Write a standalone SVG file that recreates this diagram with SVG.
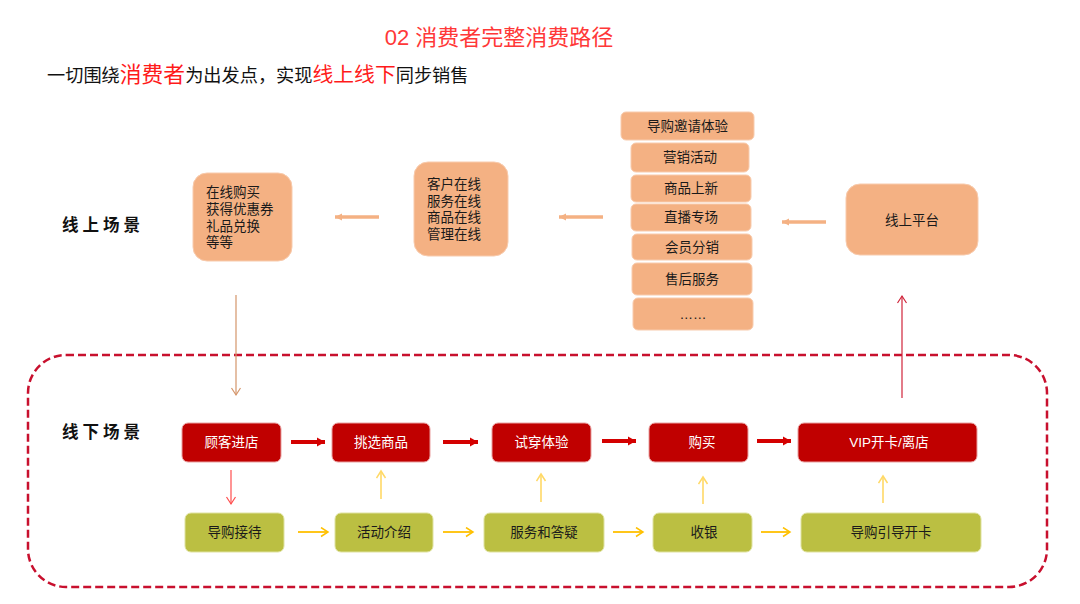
<svg xmlns="http://www.w3.org/2000/svg" width="1080" height="604" viewBox="0 0 1080 604">
<style>
text{font-family:"Liberation Sans","Noto Sans CJK SC",sans-serif;}
.on{fill:#f4b183;stroke:#f8cbad;stroke-width:1;}
.red{fill:#c00000;stroke:#e9a0a0;stroke-width:1;}
.grn{fill:#bbbf42;stroke:#dfe2a0;stroke-width:1;}
.t{font-size:13.5px;fill:#1a1a1a;}
.tc{font-size:13.5px;fill:#1a1a1a;text-anchor:middle;}
.tw{font-size:13.5px;fill:#ffffff;text-anchor:middle;}
.lbl{font-size:16.5px;font-weight:bold;fill:#111;letter-spacing:4px;}
</style>
<defs>
<marker id="hOr" markerUnits="userSpaceOnUse" markerWidth="10" markerHeight="10" refX="7" refY="4" orient="auto"><path d="M0,0.5 L7,4 L0,7.5 z" fill="#f4b183"/></marker>
<marker id="hRd" markerUnits="userSpaceOnUse" markerWidth="12" markerHeight="12" refX="8" refY="5" orient="auto"><path d="M0,0.5 L8,5 L0,9.5 z" fill="#d40000"/></marker>
<marker id="vY" markerUnits="userSpaceOnUse" markerWidth="12" markerHeight="12" refX="8" refY="5" orient="auto"><path d="M1,0.5 L8,5 L1,9.5" fill="none" stroke="#ffc000" stroke-width="1.5"/></marker>
<marker id="vY2" markerUnits="userSpaceOnUse" markerWidth="12" markerHeight="12" refX="8" refY="5" orient="auto"><path d="M1,0.5 L8,5 L1,9.5" fill="none" stroke="#ffd966" stroke-width="1.5"/></marker>
<marker id="vR" markerUnits="userSpaceOnUse" markerWidth="12" markerHeight="12" refX="8" refY="5" orient="auto"><path d="M1,0.5 L8,5 L1,9.5" fill="none" stroke="#ff4d4d" stroke-width="1.2"/></marker>
<marker id="vR2" markerUnits="userSpaceOnUse" markerWidth="12" markerHeight="12" refX="8" refY="5" orient="auto"><path d="M1,0.5 L8,5 L1,9.5" fill="none" stroke="#d0243a" stroke-width="1.2"/></marker>
<marker id="vT" markerUnits="userSpaceOnUse" markerWidth="12" markerHeight="12" refX="8" refY="5" orient="auto"><path d="M1,0.5 L8,5 L1,9.5" fill="none" stroke="#d4956a" stroke-width="1.2"/></marker>
</defs>
<rect width="1080" height="604" fill="#ffffff"/>

<g id="title">
<text x="499" y="45" font-size="22" fill="#ff3838" text-anchor="middle">02  消费者完整消费路径</text>
<text x="47" y="82" font-size="18.2" fill="#111">一切围绕<tspan font-size="21.8" fill="#ff1a1a">消费者</tspan>为出发点，实现<tspan font-size="20.8" fill="#ff1a1a">线上线下</tspan>同步销售</text>
</g>

<g id="labels">
<text class="lbl" x="62" y="231">线上场景</text>
<text class="lbl" x="62" y="438">线下场景</text>
</g>

<g id="offline-frame">
<rect x="28" y="355" width="1019" height="232" rx="38" ry="38" fill="none" stroke="#c8102e" stroke-width="2.5" stroke-dasharray="8 4"/>
</g>

<g id="online-result">
<rect class="on" x="193" y="173" width="99" height="88" rx="14"/>
<text class="t" x="206" y="197">在线购买</text>
<text class="t" x="206" y="214">获得优惠券</text>
<text class="t" x="206" y="231">礼品兑换</text>
<text class="t" x="206" y="247">等等</text>
</g>

<g id="online-service">
<rect class="on" x="414" y="162" width="94" height="94" rx="14"/>
<text class="t" x="427" y="189">客户在线</text>
<text class="t" x="427" y="205.5">服务在线</text>
<text class="t" x="427" y="222">商品在线</text>
<text class="t" x="427" y="238.5">管理在线</text>
</g>

<g id="stack-invite"><rect class="on" x="621" y="112" width="133" height="28" rx="5"/><text class="tc" x="687.5" y="131">导购邀请体验</text></g>
<g id="stack-marketing"><rect class="on" x="631" y="143" width="118" height="29" rx="5"/><text class="tc" x="690" y="162">营销活动</text></g>
<g id="stack-new"><rect class="on" x="631" y="175" width="120" height="27" rx="5"/><text class="tc" x="691" y="193">商品上新</text></g>
<g id="stack-live"><rect class="on" x="631" y="204" width="120" height="27" rx="5"/><text class="tc" x="691" y="222">直播专场</text></g>
<g id="stack-member"><rect class="on" x="632" y="234" width="120" height="26" rx="5"/><text class="tc" x="692" y="252">会员分销</text></g>
<g id="stack-after"><rect class="on" x="632" y="263" width="120" height="32" rx="5"/><text class="tc" x="692" y="284">售后服务</text></g>
<g id="stack-more"><rect class="on" x="633" y="298" width="120" height="32" rx="5"/><text class="tc" x="693" y="319" fill="#555">……</text></g>

<g id="online-platform">
<rect class="on" x="846" y="184" width="132" height="71" rx="14"/>
<text class="tc" x="912" y="225">线上平台</text>
</g>

<g id="n-enter"><rect class="red" x="182" y="423" width="99" height="39" rx="6"/><text class="tw" x="231.5" y="447">顾客进店</text></g>
<g id="n-pick"><rect class="red" x="332" y="423" width="98" height="39" rx="6"/><text class="tw" x="381" y="447">挑选商品</text></g>
<g id="n-try"><rect class="red" x="492" y="423" width="99" height="39" rx="6"/><text class="tw" x="541.5" y="447">试穿体验</text></g>
<g id="n-buy"><rect class="red" x="649" y="423" width="99" height="39" rx="6"/><text class="tw" x="702" y="447">购买</text></g>
<g id="n-vip"><rect class="red" x="798" y="423" width="179" height="39" rx="6"/><text class="tw" x="889" y="447">VIP开卡/离店</text></g>

<g id="g-reception"><rect class="grn" x="185" y="513" width="99" height="39" rx="6"/><text class="tc" x="234.5" y="537">导购接待</text></g>
<g id="g-activity"><rect class="grn" x="335" y="513" width="98" height="39" rx="6"/><text class="tc" x="384" y="537">活动介绍</text></g>
<g id="g-service"><rect class="grn" x="484" y="513" width="120" height="39" rx="6"/><text class="tc" x="544" y="537">服务和答疑</text></g>
<g id="g-cashier"><rect class="grn" x="653" y="513" width="99" height="39" rx="6"/><text class="tc" x="704" y="537">收银</text></g>
<g id="g-card"><rect class="grn" x="801" y="513" width="180" height="39" rx="6"/><text class="tc" x="891" y="537">导购引导开卡</text></g>

<g id="connectors">
<line x1="379" y1="217" x2="335" y2="217" stroke="#f4b183" stroke-width="3.5" marker-end="url(#hOr)"/>
<line x1="603" y1="217" x2="559" y2="217" stroke="#f4b183" stroke-width="3.5" marker-end="url(#hOr)"/>
<line x1="826" y1="222" x2="782" y2="222" stroke="#f4b183" stroke-width="3.5" marker-end="url(#hOr)"/>

<line x1="236" y1="295" x2="236" y2="395" stroke="#d4956a" stroke-width="1.2" marker-end="url(#vT)"/>
<line x1="902" y1="398" x2="902" y2="296" stroke="#d0243a" stroke-width="1.2" marker-end="url(#vR2)"/>

<line x1="291" y1="442" x2="325" y2="442" stroke="#d40000" stroke-width="4" marker-end="url(#hRd)"/>
<line x1="443" y1="442" x2="478" y2="442" stroke="#d40000" stroke-width="4" marker-end="url(#hRd)"/>
<line x1="602" y1="441" x2="636" y2="441" stroke="#d40000" stroke-width="4" marker-end="url(#hRd)"/>
<line x1="757" y1="441" x2="791" y2="441" stroke="#d40000" stroke-width="4" marker-end="url(#hRd)"/>

<line x1="231" y1="470" x2="231" y2="504" stroke="#ff4d4d" stroke-width="1.2" marker-end="url(#vR)"/>

<line x1="298" y1="532" x2="328" y2="532" stroke="#ffc000" stroke-width="1.8" marker-end="url(#vY)"/>
<line x1="443" y1="532" x2="473" y2="532" stroke="#ffc000" stroke-width="1.8" marker-end="url(#vY)"/>
<line x1="613" y1="532" x2="643" y2="532" stroke="#ffc000" stroke-width="1.8" marker-end="url(#vY)"/>
<line x1="761" y1="532" x2="790" y2="532" stroke="#ffc000" stroke-width="1.8" marker-end="url(#vY)"/>

<line x1="381" y1="499" x2="381" y2="471" stroke="#ffd966" stroke-width="1.6" marker-end="url(#vY2)"/>
<line x1="541" y1="502" x2="541" y2="474" stroke="#ffd966" stroke-width="1.6" marker-end="url(#vY2)"/>
<line x1="703" y1="504" x2="703" y2="477" stroke="#ffd966" stroke-width="1.6" marker-end="url(#vY2)"/>
<line x1="883" y1="503" x2="883" y2="476" stroke="#ffd966" stroke-width="1.6" marker-end="url(#vY2)"/>
</g>
</svg>
